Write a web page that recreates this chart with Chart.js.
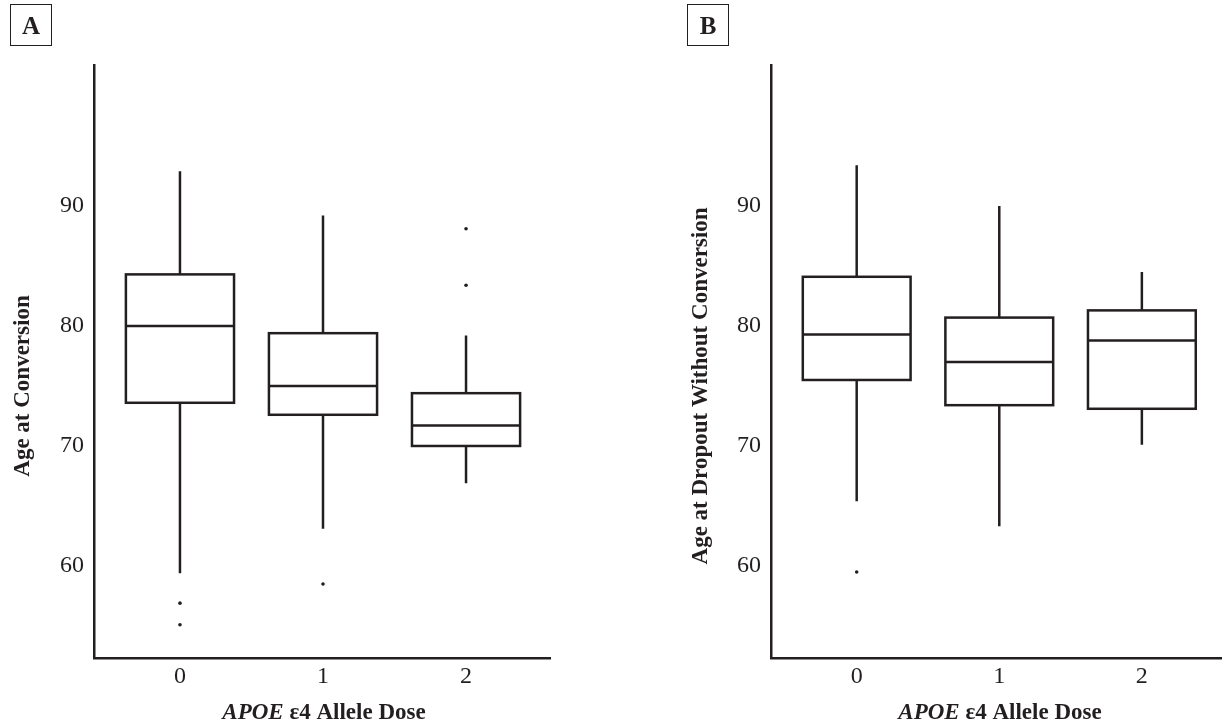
<!DOCTYPE html>
<html>
<head>
<meta charset="utf-8">
<script src="https://cdn.jsdelivr.net/npm/chart.js@4.4.1/dist/chart.umd.min.js"></script>
<style>
  body { margin: 0; background: #fff; }
  #wrap { position: relative; width: 1225px; height: 727px; overflow: hidden; }
  .pane { position: absolute; top: 0; height: 727px; }
  .tag {
    position: absolute; top: 4px; width: 42px; height: 42px;
    border: 1.3px solid #231f20; box-sizing: border-box;
    font: bold 25px "Liberation Serif", serif; color: #231f20;
    text-align: center; line-height: 42px;
  }
</style>
</head>
<body>
<div id="wrap">
  <div class="pane" style="left:0;width:612px"><canvas id="chartA" width="612" height="727"></canvas></div>
  <div class="pane" style="left:612px;width:613px"><canvas id="chartB" width="613" height="727"></canvas></div>
  <div class="tag" style="left:10px">A</div>
  <div class="tag" style="left:687px">B</div>
</div>
<script>
// categories and ticks
const doses = [0, 1, 2];
const doseLabels = ['0', '1', '2'];
const yTicks = [60, 70, 80, 90];

// A - age at conversion
const convLow = [59.4, 63.1, 66.9];
const convQ1  = [73.6, 72.6, 70.0];
const convMed = [80.0, 75.0, 71.7];
const convQ3  = [84.3, 79.4, 74.4];
const convHigh = [92.9, 89.2, 79.2];
const convOut = [[56.9, 55.1], [58.5], [88.1, 83.4]];

// B - age at dropout without conversion
const dropLow = [65.4, 63.3, 70.1];
const dropQ1  = [75.5, 73.4, 73.1];
const dropMed = [79.3, 77.0, 78.8];
const dropQ3  = [84.1, 80.7, 81.3];
const dropHigh = [93.4, 90.0, 84.5];
const dropOut = [[59.5], [], []];

const INK = '#231f20';
const SERIF = '"Liberation Serif", "Times New Roman", serif';
const BOX_HALF = 0.378;

function boxPlugin(low, q1, med, q3, high) {
  return {
    id: 'boxes',
    afterDatasetsDraw(chart) {
      const { ctx, scales: { x, y } } = chart;
      ctx.save();
      ctx.strokeStyle = INK;
      ctx.lineWidth = 2.5;
      doses.forEach((d, i) => {
        const xc = x.getPixelForValue(d);
        const xl = x.getPixelForValue(d - BOX_HALF);
        const xr = x.getPixelForValue(d + BOX_HALF);
        const yLo = y.getPixelForValue(low[i]), yQ1 = y.getPixelForValue(q1[i]);
        const yMd = y.getPixelForValue(med[i]), yQ3 = y.getPixelForValue(q3[i]);
        const yHi = y.getPixelForValue(high[i]);
        ctx.beginPath();
        ctx.moveTo(xc, yHi); ctx.lineTo(xc, yQ3);
        ctx.moveTo(xc, yQ1); ctx.lineTo(xc, yLo);
        ctx.moveTo(xl, yMd); ctx.lineTo(xr, yMd);
        ctx.stroke();
        ctx.strokeRect(xl, yQ3, xr - xl, yQ1 - yQ3);
      });
      ctx.restore();
    }
  };
}

// axis titles (x title mixes italic and upright)
function titlePlugin(yTitle, yTitleX, xCenter) {
  return {
    id: 'titles',
    afterDraw(chart) {
      const ctx = chart.ctx;
      ctx.save();
      ctx.fillStyle = INK;
      ctx.textBaseline = 'middle';
      ctx.translate(yTitleX, 386);
      ctx.rotate(-Math.PI / 2);
      ctx.font = 'bold 23px ' + SERIF;
      ctx.textAlign = 'center';
      ctx.fillText(yTitle, 0, 0);
      ctx.restore();

      ctx.save();
      ctx.fillStyle = INK;
      ctx.textBaseline = 'middle';
      ctx.textAlign = 'left';
      const part1 = 'APOE', part2 = ' ε4 Allele Dose';
      ctx.font = 'italic bold 23px ' + SERIF;
      const w1 = ctx.measureText(part1).width;
      ctx.font = 'bold 23px ' + SERIF;
      const w2 = ctx.measureText(part2).width;
      const x0 = xCenter - (w1 + w2) / 2;
      ctx.font = 'italic bold 23px ' + SERIF;
      ctx.fillText(part1, x0, 713);
      ctx.font = 'bold 23px ' + SERIF;
      ctx.fillText(part2, x0 + w1, 713);
      ctx.restore();
    }
  };
}

function makeChart(id, cfg) {
  const outPoints = cfg.out.flatMap((vals, i) => vals.map(v => ({ x: doses[i], y: v })));
  return new Chart(document.getElementById(id), {
    type: 'scatter',
    data: {
      datasets: [{
        data: outPoints,
        pointRadius: 1.8,
        pointBackgroundColor: INK,
        pointBorderWidth: 0
      }]
    },
    options: {
      responsive: false,
      animation: false,
      layout: { padding: { left: 0, top: 65, right: cfg.padRight, bottom: 0 } },
      plugins: { legend: { display: false }, tooltip: { enabled: false } },
      scales: {
        x: {
          type: 'linear', min: -0.601, max: cfg.xMax,
          afterFit: s => { s.height = 69; },
          afterBuildTicks: s => { s.ticks = doses.map(v => ({ value: v })); },
          grid: { display: false, drawTicks: false },
          border: { display: true, color: INK, width: 2.5 },
          ticks: {
            padding: 4, color: INK,
            font: { family: SERIF, size: 24 },
            callback: (v) => doseLabels[doses.indexOf(v)]
          }
        },
        y: {
          min: 52.33, max: 101.75,
          afterFit: s => { s.width = cfg.yWidth; },
          afterBuildTicks: s => { s.ticks = yTicks.map(v => ({ value: v })); },
          grid: { display: false, drawTicks: false },
          border: { display: true, color: INK, width: 2.5 },
          ticks: { padding: 10, color: INK, font: { family: SERIF, size: 24 } }
        }
      }
    },
    plugins: [boxPlugin(cfg.low, cfg.q1, cfg.med, cfg.q3, cfg.high),
              titlePlugin(cfg.yTitle, cfg.yTitleX, cfg.xCenter)]
  });
}

makeChart('chartA', {
  low: convLow, q1: convQ1, med: convMed, q3: convQ3, high: convHigh, out: convOut,
  yTitle: 'Age at Conversion', yTitleX: 23, xCenter: 324,
  yWidth: 94, padRight: 62, xMax: 2.587
});

makeChart('chartB', {
  low: dropLow, q1: dropQ1, med: dropMed, q3: dropQ3, high: dropHigh, out: dropOut,
  yTitle: 'Age at Dropout Without Conversion', yTitleX: 89, xCenter: 388,
  yWidth: 159, padRight: 0, xMax: 2.555
});
</script>
</body>
</html>
